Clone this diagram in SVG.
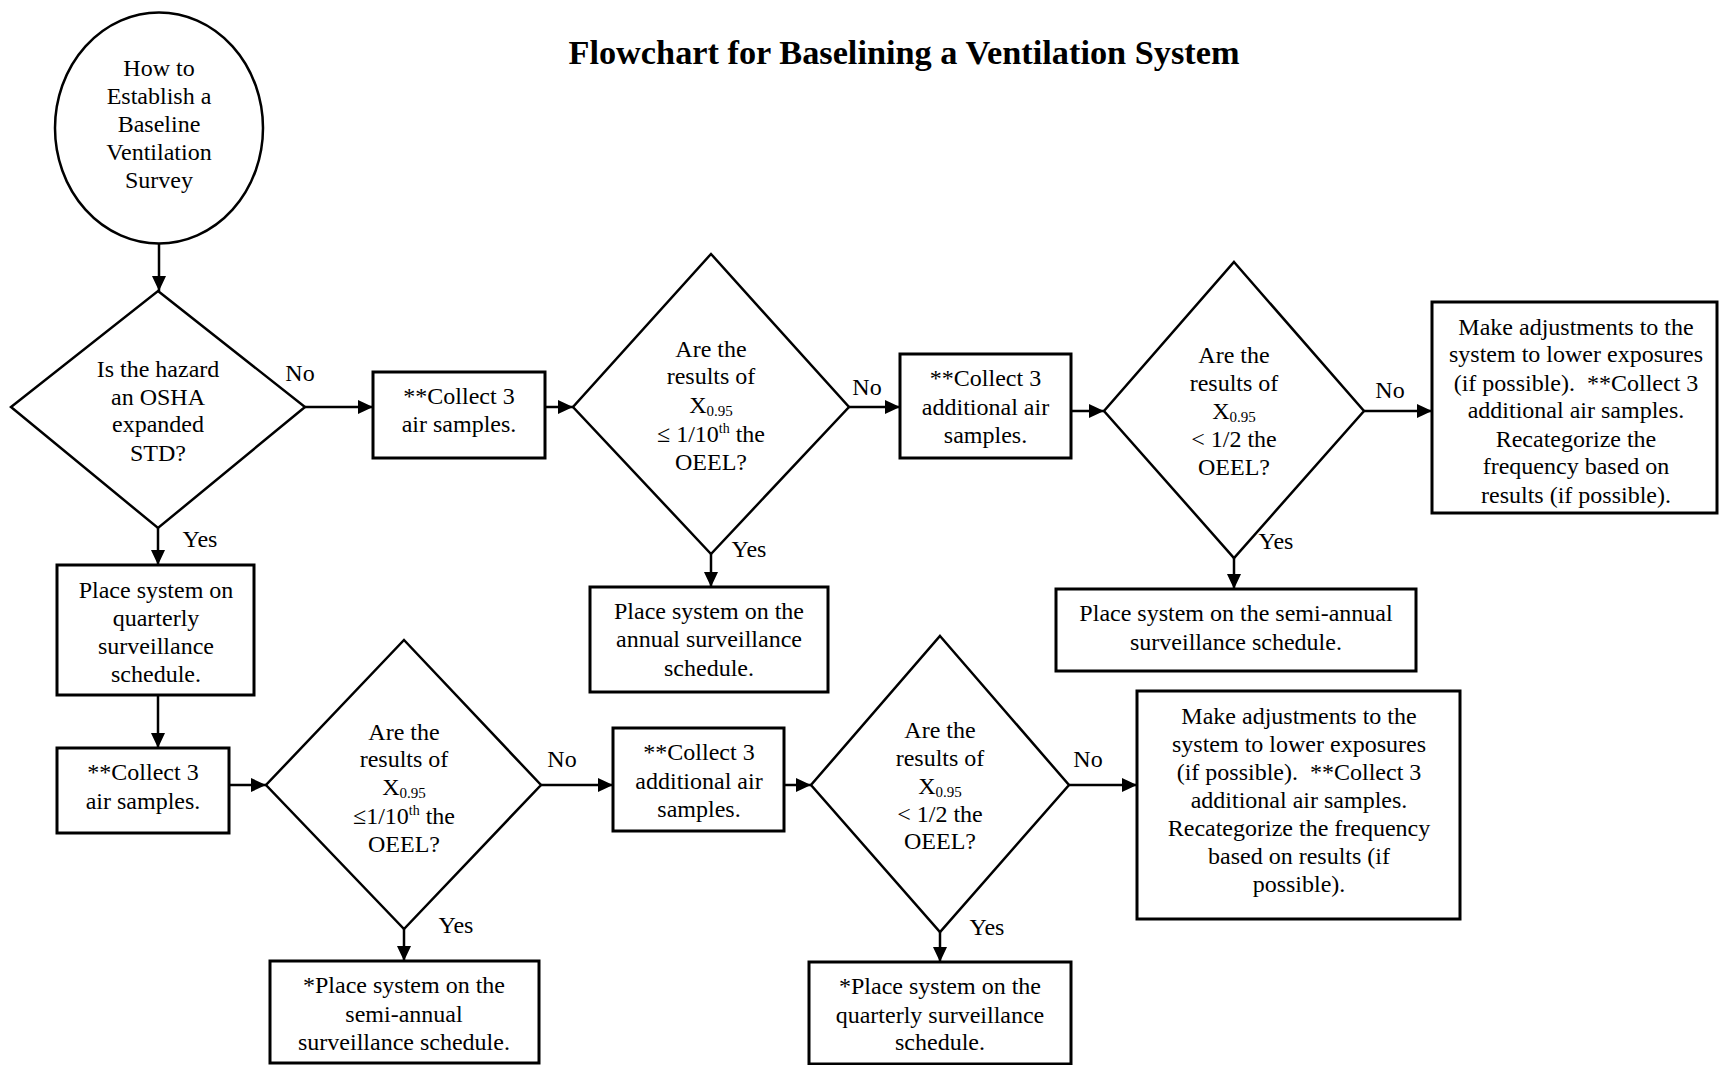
<svg xmlns="http://www.w3.org/2000/svg" width="1720" height="1065" viewBox="0 0 1720 1065">
<style>
.t{font-family:"Liberation Serif","Times New Roman",serif;font-size:24px;fill:#000;text-anchor:middle}
.title{font-family:"Liberation Serif","Times New Roman",serif;font-size:34.3px;font-weight:bold;fill:#000;text-anchor:middle}
.box{fill:#fff;stroke:#000;stroke-width:3}
.dia{fill:#fff;stroke:#000;stroke-width:2.5}
.edge{stroke:#000;stroke-width:2.5;fill:none;marker-end:url(#ah)}
.sub{font-size:15px}
.sup{font-size:14px}
</style>
<defs>
<marker id="ah" markerUnits="userSpaceOnUse" markerWidth="15" markerHeight="14" refX="15" refY="7" orient="auto">
<path d="M0,0 L15,7 L0,14 z" fill="#000"/>
</marker>
</defs>
<rect width="1720" height="1065" fill="#fff"/>
<text class="title" x="904" y="64">Flowchart for Baselining a Ventilation System</text>

<g id="connectors">
<line class="edge" x1="159" y1="244" x2="159" y2="291"/>
<line class="edge" x1="305" y1="407" x2="373" y2="407"/>
<line class="edge" x1="545" y1="407" x2="573" y2="407"/>
<line class="edge" x1="849" y1="407" x2="900" y2="407"/>
<line class="edge" x1="1071" y1="411" x2="1104" y2="411"/>
<line class="edge" x1="1364" y1="411" x2="1432" y2="411"/>
<line class="edge" x1="158" y1="528" x2="158" y2="565"/>
<line class="edge" x1="711" y1="554" x2="711" y2="587"/>
<line class="edge" x1="1234" y1="558" x2="1234" y2="589"/>
<line class="edge" x1="158" y1="695" x2="158" y2="748"/>
<line class="edge" x1="229" y1="785" x2="266" y2="785"/>
<line class="edge" x1="541" y1="785" x2="613" y2="785"/>
<line class="edge" x1="784" y1="785" x2="811" y2="785"/>
<line class="edge" x1="1069" y1="785" x2="1137" y2="785"/>
<line class="edge" x1="404" y1="929" x2="404" y2="961"/>
<line class="edge" x1="940" y1="932" x2="940" y2="962"/>
<text class="t" x="300" y="381">No</text>
<text class="t" x="867" y="395">No</text>
<text class="t" x="1390" y="398">No</text>
<text class="t" x="562" y="767">No</text>
<text class="t" x="1088" y="767">No</text>
<text class="t" x="200" y="547">Yes</text>
<text class="t" x="749" y="557">Yes</text>
<text class="t" x="1276" y="549">Yes</text>
<text class="t" x="456" y="933">Yes</text>
<text class="t" x="987" y="935">Yes</text>
</g>

<g id="start">
<ellipse cx="159" cy="128" rx="104" ry="115.5" fill="#fff" stroke="#000" stroke-width="2.5"/>
<text class="t" x="159" y="76">How to</text>
<text class="t" x="159" y="104">Establish a</text>
<text class="t" x="159" y="132">Baseline</text>
<text class="t" x="159" y="160">Ventilation</text>
<text class="t" x="159" y="188">Survey</text>
</g>

<g id="d1">
<polygon class="dia" points="158,291 305,407 158,528 11,407"/>
<text class="t" x="158" y="377">Is the hazard</text>
<text class="t" x="158" y="405">an OSHA</text>
<text class="t" x="158" y="432">expanded</text>
<text class="t" x="158" y="461">STD?</text>
</g>

<g id="boxA">
<rect class="box" x="373" y="372" width="172" height="86"/>
<text class="t" x="459" y="404">**Collect 3</text>
<text class="t" x="459" y="432">air samples.</text>
</g>

<g id="d2">
<polygon class="dia" points="711,254 849,407 711,554 573,407"/>
<text class="t" x="711" y="357">Are the</text>
<text class="t" x="711" y="384">results of</text>
<text class="t" x="711" y="413">X<tspan class="sub" dy="3">0.95</tspan></text>
<text class="t" x="711" y="442">≤ 1/10<tspan class="sup" dy="-9">th</tspan><tspan dy="9"> the</tspan></text>
<text class="t" x="711" y="470">OEEL?</text>
</g>

<g id="boxB">
<rect class="box" x="900" y="354" width="171" height="104"/>
<text class="t" x="985.5" y="386">**Collect 3</text>
<text class="t" x="985.5" y="415">additional air</text>
<text class="t" x="985.5" y="443">samples.</text>
</g>

<g id="d3">
<polygon class="dia" points="1234,262 1364,411 1234,558 1104,411"/>
<text class="t" x="1234" y="363">Are the</text>
<text class="t" x="1234" y="391">results of</text>
<text class="t" x="1234" y="419">X<tspan class="sub" dy="3">0.95</tspan></text>
<text class="t" x="1234" y="447">&lt; 1/2 the</text>
<text class="t" x="1234" y="475">OEEL?</text>
</g>

<g id="boxC">
<rect class="box" x="1432" y="302" width="285" height="211"/>
<text class="t" x="1576" y="335">Make adjustments to the</text>
<text class="t" x="1576" y="362">system to lower exposures</text>
<text class="t" x="1576" y="391" xml:space="preserve">(if possible).  **Collect 3</text>
<text class="t" x="1576" y="418">additional air samples.</text>
<text class="t" x="1576" y="447">Recategorize the</text>
<text class="t" x="1576" y="474">frequency based on</text>
<text class="t" x="1576" y="503">results (if possible).</text>
</g>

<g id="boxD">
<rect class="box" x="57" y="565" width="197" height="130"/>
<text class="t" x="156" y="598">Place system on</text>
<text class="t" x="156" y="626">quarterly</text>
<text class="t" x="156" y="654">surveillance</text>
<text class="t" x="156" y="682">schedule.</text>
</g>

<g id="boxJ">
<rect class="box" x="590" y="587" width="238" height="105"/>
<text class="t" x="709" y="619">Place system on the</text>
<text class="t" x="709" y="647">annual surveillance</text>
<text class="t" x="709" y="676">schedule.</text>
</g>

<g id="boxK">
<rect class="box" x="1056" y="589" width="360" height="82"/>
<text class="t" x="1236" y="621">Place system on the semi-annual</text>
<text class="t" x="1236" y="650">surveillance schedule.</text>
</g>

<g id="boxE">
<rect class="box" x="57" y="748" width="172" height="85"/>
<text class="t" x="143" y="780">**Collect 3</text>
<text class="t" x="143" y="809">air samples.</text>
</g>

<g id="d4">
<polygon class="dia" points="404,640 541,785 404,929 266,785"/>
<text class="t" x="404" y="740">Are the</text>
<text class="t" x="404" y="767">results of</text>
<text class="t" x="404" y="795">X<tspan class="sub" dy="3">0.95</tspan></text>
<text class="t" x="404" y="824">≤1/10<tspan class="sup" dy="-9">th</tspan><tspan dy="9"> the</tspan></text>
<text class="t" x="404" y="852">OEEL?</text>
</g>

<g id="boxF">
<rect class="box" x="613" y="728" width="171" height="103"/>
<text class="t" x="699" y="760">**Collect 3</text>
<text class="t" x="699" y="789">additional air</text>
<text class="t" x="699" y="817">samples.</text>
</g>

<g id="d5">
<polygon class="dia" points="940,636 1069,785 940,932 811,785"/>
<text class="t" x="940" y="738">Are the</text>
<text class="t" x="940" y="766">results of</text>
<text class="t" x="940" y="794">X<tspan class="sub" dy="3">0.95</tspan></text>
<text class="t" x="940" y="822">&lt; 1/2 the</text>
<text class="t" x="940" y="849">OEEL?</text>
</g>

<g id="boxG">
<rect class="box" x="1137" y="691" width="323" height="228"/>
<text class="t" x="1299" y="724">Make adjustments to the</text>
<text class="t" x="1299" y="752">system to lower exposures</text>
<text class="t" x="1299" y="780" xml:space="preserve">(if possible).  **Collect 3</text>
<text class="t" x="1299" y="808">additional air samples.</text>
<text class="t" x="1299" y="836">Recategorize the frequency</text>
<text class="t" x="1299" y="864">based on results (if</text>
<text class="t" x="1299" y="892">possible).</text>
</g>

<g id="boxH">
<rect class="box" x="270" y="961" width="269" height="102"/>
<text class="t" x="404" y="993">*Place system on the</text>
<text class="t" x="404" y="1022">semi-annual</text>
<text class="t" x="404" y="1050">surveillance schedule.</text>
</g>

<g id="boxI">
<rect class="box" x="809" y="962" width="262" height="102"/>
<text class="t" x="940" y="994">*Place system on the</text>
<text class="t" x="940" y="1023">quarterly surveillance</text>
<text class="t" x="940" y="1050">schedule.</text>
</g>
</svg>
